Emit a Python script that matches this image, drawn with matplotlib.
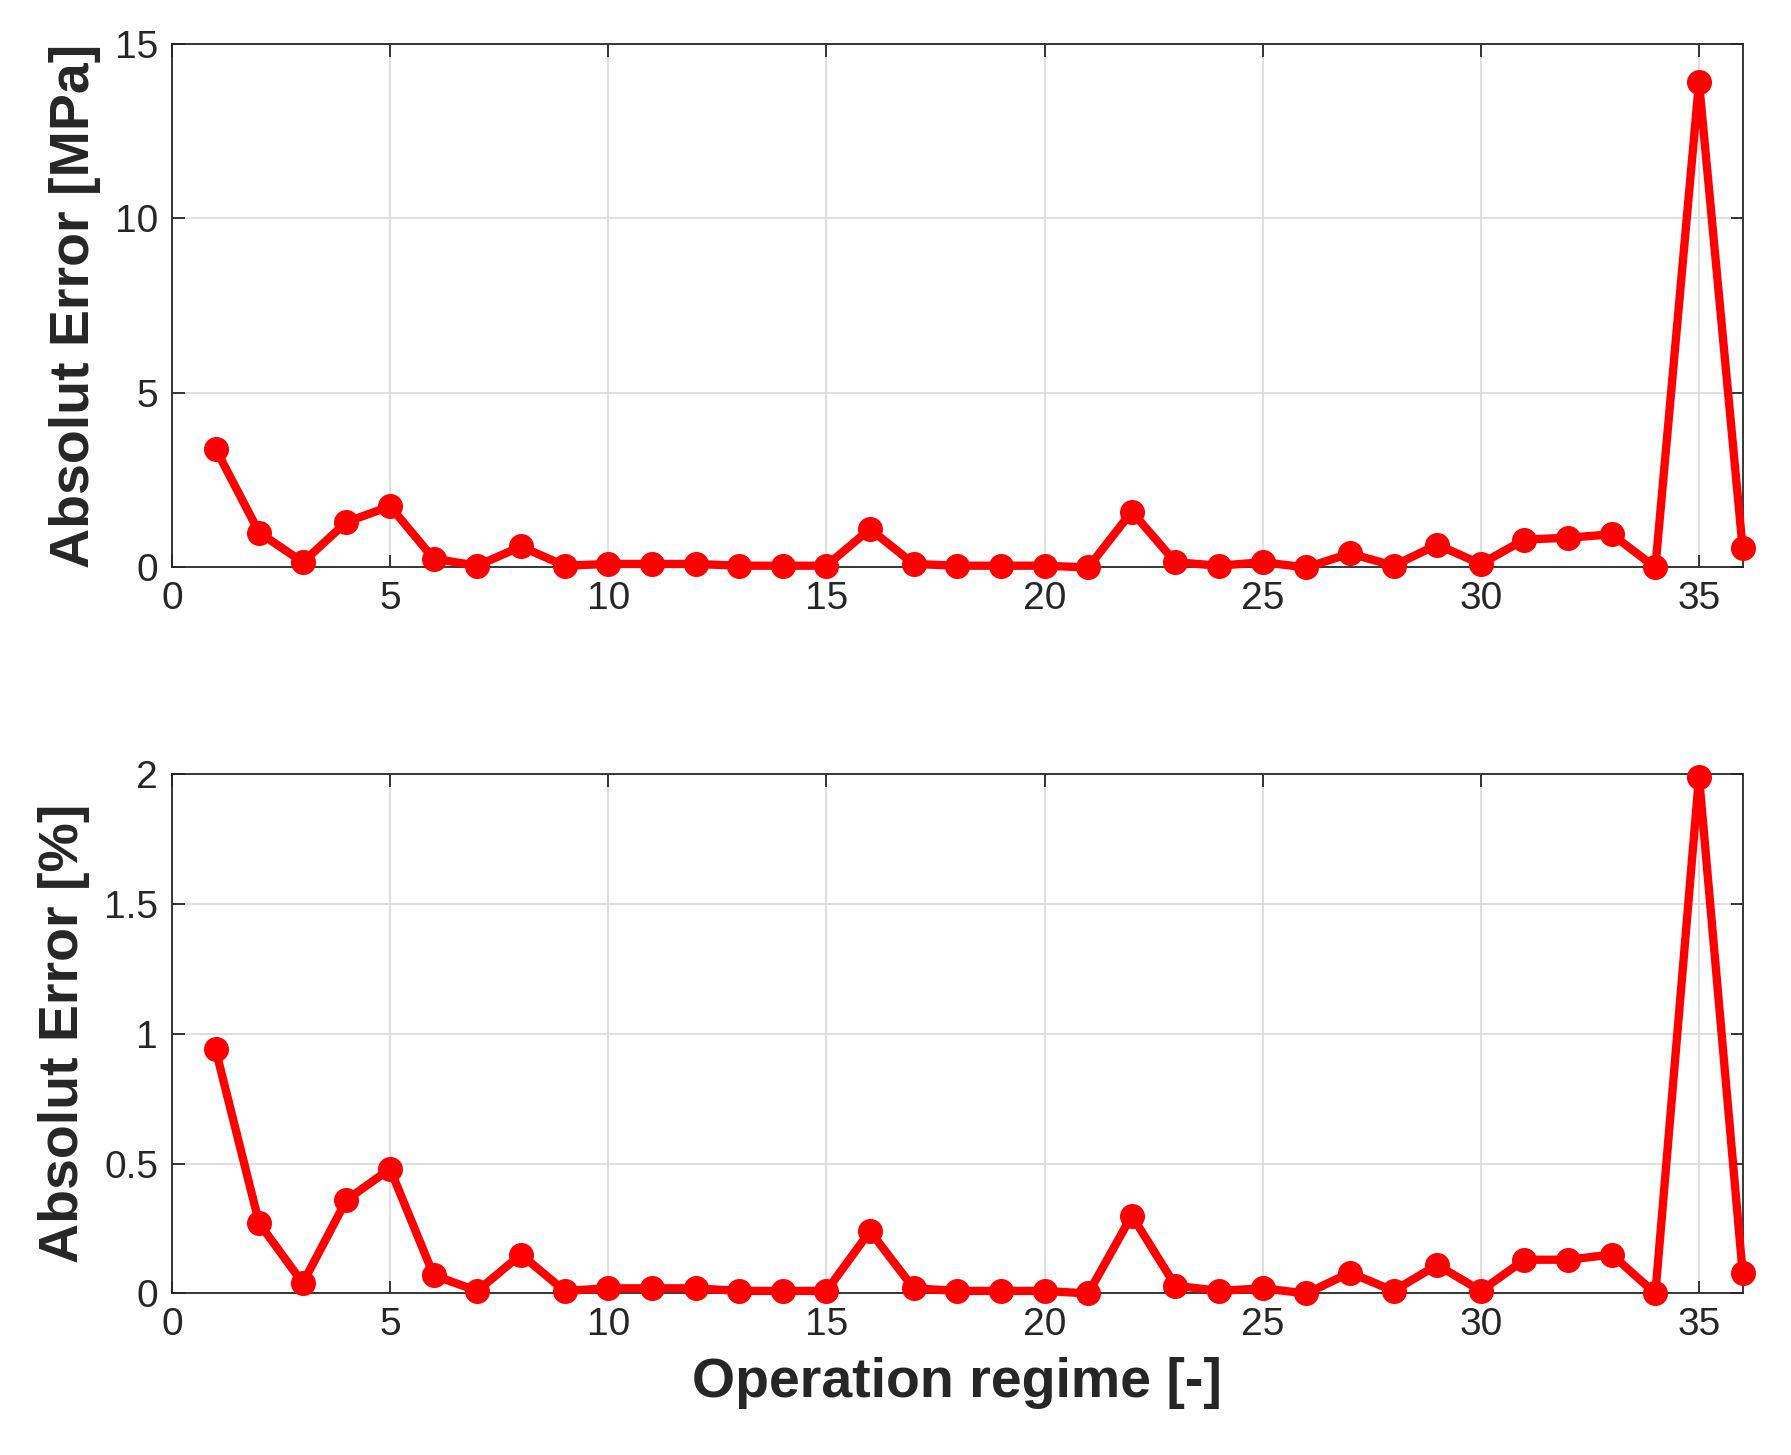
import numpy as np
import matplotlib.pyplot as plt

plt.rcParams['font.family'] = ['Liberation Sans', 'DejaVu Sans']

regime = list(range(1, 37))
err_mpa = [3.4, 1.0, 0.15, 1.3, 1.75, 0.25, 0.05, 0.6, 0.05, 0.1, 0.1, 0.1,
           0.05, 0.05, 0.05, 1.1, 0.1, 0.05, 0.05, 0.05, 0.0, 1.6, 0.15, 0.05,
           0.15, 0.0, 0.4, 0.05, 0.65, 0.1, 0.8, 0.85, 0.95, 0.0, 13.9, 0.55]
err_pct = [0.94, 0.27, 0.04, 0.36, 0.48, 0.07, 0.01, 0.15, 0.01, 0.02, 0.02, 0.02,
           0.01, 0.01, 0.01, 0.24, 0.02, 0.01, 0.01, 0.01, 0.0, 0.30, 0.03, 0.01,
           0.02, 0.0, 0.08, 0.01, 0.11, 0.01, 0.13, 0.13, 0.15, 0.0, 1.99, 0.08]

fig = plt.figure(figsize=(17.91, 14.55), dpi=100)
ax1 = fig.add_axes([0.096, 0.610, 0.877, 0.360])
ax2 = fig.add_axes([0.096, 0.111, 0.877, 0.357])

panels = [(ax1, err_mpa, 'Absolut Error [MPa]', (0, 15), [0, 5, 10, 15], ['0', '5', '10', '15']),
          (ax2, err_pct, 'Absolut Error [%]', (0, 2), [0, 0.5, 1, 1.5, 2], ['0', '0.5', '1', '1.5', '2'])]

for ax, vals, lab, ylim, yt, ytl in panels:
    ax.plot(regime, vals, '-o', color='#ff0000', lw=6, ms=17, clip_on=False, zorder=3)
    ax.set_xlim(0, 36)
    ax.set_ylim(*ylim)
    ax.set_xticks([0, 5, 10, 15, 20, 25, 30, 35])
    ax.set_yticks(yt)
    ax.set_yticklabels(ytl)
    ax.grid(True, color='#d9d9d9', lw=1.2)
    ax.set_axisbelow(True)
    ax.tick_params(labelsize=28, direction='in', length=9, width=1.3, pad=10,
                   top=True, right=True, colors='#262626')
    for s in ax.spines.values():
        s.set_linewidth(1.3)
        s.set_color('#262626')
    ax.set_ylabel(lab, fontsize=40, fontweight='bold', color='#262626', labelpad=10)

ax2.set_xlabel('Operation regime [-]', fontsize=40, fontweight='bold', color='#262626', labelpad=10)
fig.align_ylabels([ax1, ax2])

fig.savefig('out.png', dpi=100)
